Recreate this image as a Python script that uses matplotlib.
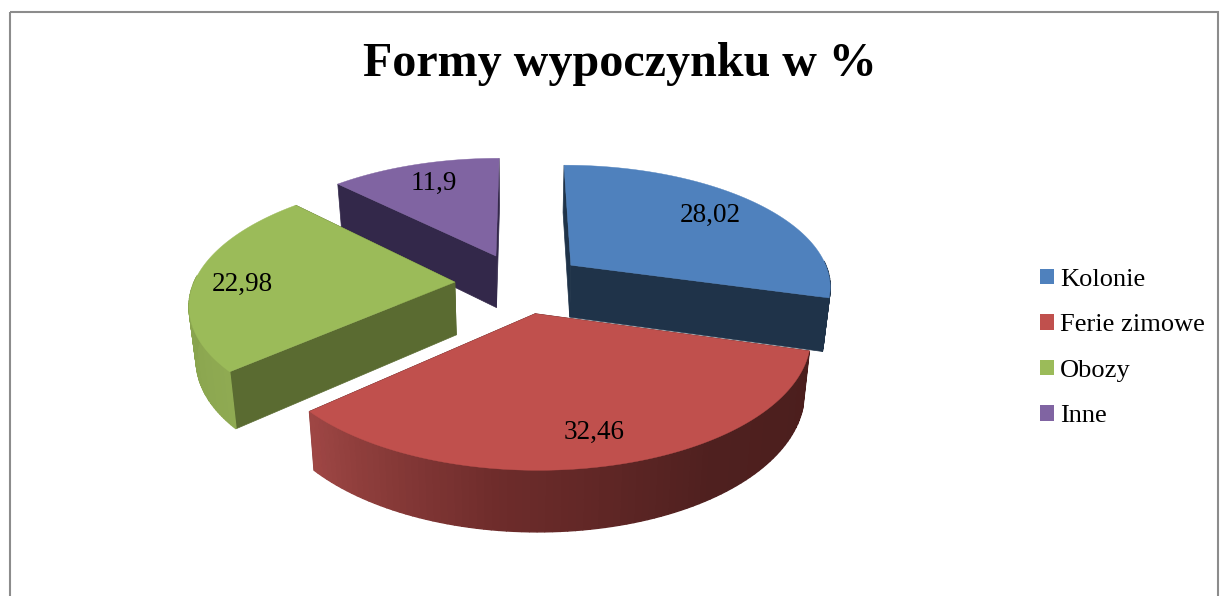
import numpy as np
import matplotlib
matplotlib.use('Agg')
import matplotlib.pyplot as plt
from matplotlib.colors import LinearSegmentedColormap
from matplotlib.patches import Patch, Rectangle

plt.rcParams['font.family'] = ['Liberation Serif', 'DejaVu Serif']

categories = ['Kolonie', 'Ferie zimowe', 'Obozy', 'Inne']
values = [28.02, 32.46, 22.98, 11.9]
value_labels = ['28,02', '32,46', '22,98', '11,9']

top_colors = ['#4F81BD', '#C0504D', '#9BBB59', '#8064A2']
flat_side_colors = ['#1F3349', '#4D1F1E', '#5A6B31', '#33284A']
curve_side_colors = [['#1F3349', '#1F3349'],
                     ['#4B1E1D', '#4F201F', '#6E2C2B', '#9E4644'],
                     ['#8FAA52', '#7F9A47'],
                     ['#33284A', '#33284A']]
label_pos = [(710, 215), (594, 432), (242, 284), (434, 183)]

# view of the tilted pie, in pixels
CX, CY = 520, 283
RX, RY = 261, 121
PERSP = 0.158
DROP = 0.022
HEIGHT = 54
EXPLODE = 0.25


def project(gx, gy, z=0.0):
    s = 1.0 / (1.0 + PERSP * gy) * (1.0 - DROP * z)
    return CX + RX * gx * s, CY - RY * gy * s + HEIGHT * z * s


fig = plt.figure(figsize=(12.2, 5.96), dpi=100)
ax = fig.add_axes([0, 0, 1, 1])
ax.set_xlim(0, 1220)
ax.set_ylim(596, 0)
ax.axis('off')

ax.add_patch(Rectangle((10, 12), 1208, 640, fill=False, edgecolor='#8C8C8C', linewidth=1.5))

edges = np.cumsum([0] + values) / sum(values) * 2 * np.pi


def draw_wedge(i):
    a0, a1 = edges[i], edges[i + 1]
    mid = (a0 + a1) / 2
    ox, oy = EXPLODE * np.sin(mid), EXPLODE * np.cos(mid)
    th = np.linspace(a0, a1, 90)
    gx = ox + np.sin(th)
    gy = oy + np.cos(th)

    # radial side faces
    for a in (a0, a1):
        ex, ey = ox + np.sin(a), oy + np.cos(a)
        pts = [project(ox, oy, 0), project(ex, ey, 0), project(ex, ey, 1), project(ox, oy, 1)]
        ax.fill(*zip(*pts), color=flat_side_colors[i], linewidth=0.5, zorder=i_order[i])

    # curved outer side, one thin strip per step
    cmap = LinearSegmentedColormap.from_list('side', curve_side_colors[i])
    for k in range(len(th) - 1):
        pts = [project(gx[k], gy[k], 0), project(gx[k + 1], gy[k + 1], 0),
               project(gx[k + 1], gy[k + 1], 1), project(gx[k], gy[k], 1)]
        if gy[k] < oy + 0.05:
            ax.fill(*zip(*pts), color=cmap(k / (len(th) - 2)), linewidth=1.0, zorder=i_order[i])

    xs, ys = project(np.r_[ox, gx], np.r_[oy, gy])
    ax.fill(xs, ys, color=top_colors[i], linewidth=0.3, zorder=i_order[i] + 0.5)


i_order = {3: 1, 0: 2, 2: 3, 1: 4}
for i in i_order:
    draw_wedge(i)

for text, (x, y) in zip(value_labels, label_pos):
    ax.text(x, y, text, ha='center', va='center', fontsize=19.5, color='black', zorder=10)

ax.text(620, 64, 'Formy wypoczynku w %', ha='center', va='center',
        fontsize=34.6, fontweight='bold', color='black')

handles = [Patch(facecolor=c, edgecolor='none') for c in top_colors]
ax.legend(handles, categories, loc='center left', bbox_to_anchor=(1040, 348),
          bbox_transform=ax.transData, frameon=False, fontsize=19,
          labelspacing=0.88, handlelength=0.53, handleheight=0.53,
          handletextpad=0.23, borderpad=0, borderaxespad=0)

fig.savefig('out.png', dpi=100)
